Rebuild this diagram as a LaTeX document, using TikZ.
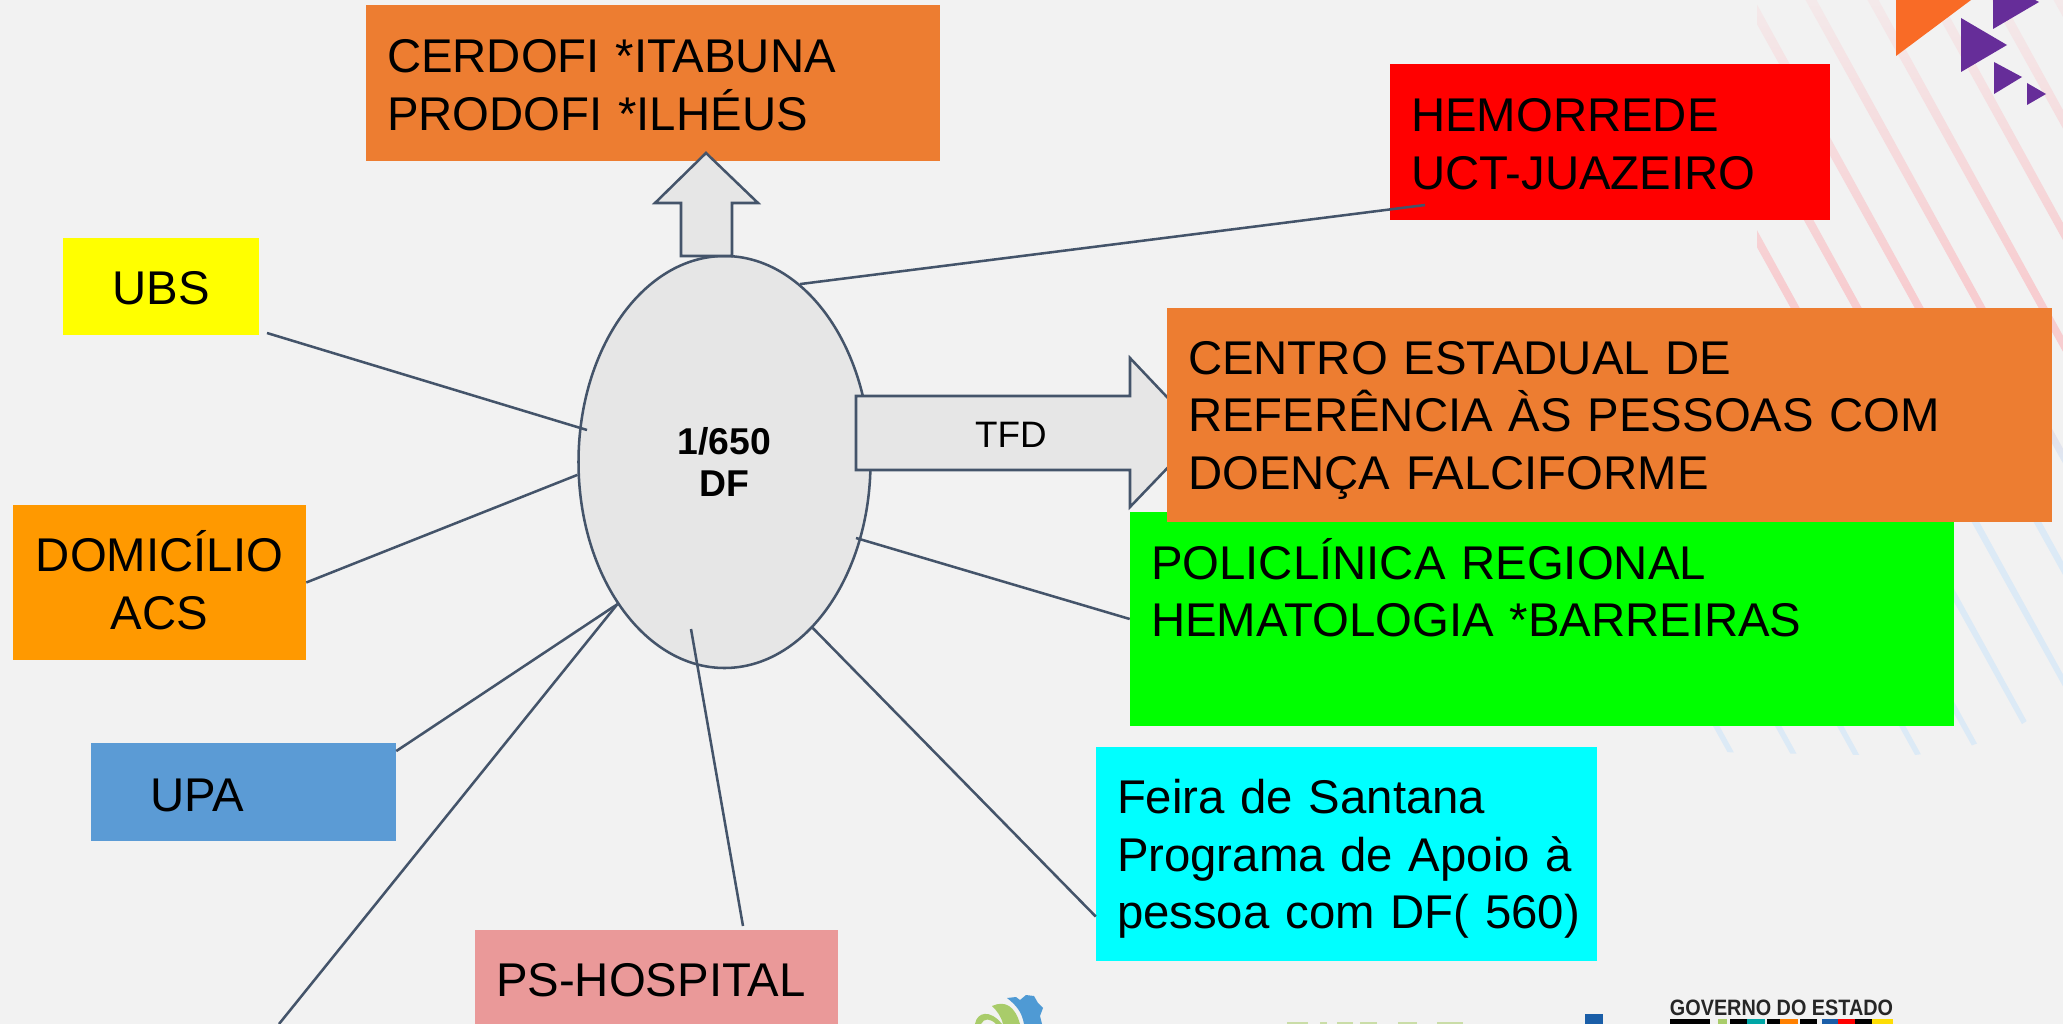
\documentclass[tikz,border=0pt]{standalone}
\usepackage{fontspec}
\usepackage{tikz}
\usetikzlibrary{shapes.geometric}
\setmainfont{Liberation Sans}

\definecolor{pagegray}{HTML}{F2F2F2}
\definecolor{linegray}{HTML}{44546A}
\definecolor{bubblegray}{HTML}{E6E6E6}
\definecolor{boxorange}{HTML}{ED7D31}
\definecolor{deeporange}{HTML}{FF9900}
\definecolor{boxblue}{HTML}{5B9BD5}
\definecolor{boxrose}{HTML}{EA9999}
\definecolor{boxred}{HTML}{FF0000}
\definecolor{boxyellow}{HTML}{FFFF00}
\definecolor{boxgreen}{HTML}{00FF00}
\definecolor{boxcyan}{HTML}{00FFFF}
\definecolor{cornerorange}{HTML}{F96B26}
\definecolor{cornerpurple}{HTML}{662D99}
\definecolor{sproutgreen}{HTML}{A9CC6A}
\definecolor{gearblue}{HTML}{4F9AD4}
\definecolor{barblue}{HTML}{1A5EA8}
\definecolor{stripeblue}{HTML}{DCEAF6}
\definecolor{stripepink}{HTML}{F7CDD0}
\definecolor{stripepale}{HTML}{F4E9EA}

\pgfdeclareverticalshading{stripefade}{100bp}{
  color(0bp)=(stripeblue);
  color(25bp)=(stripeblue);
  color(44bp)=(stripeblue);
  color(52bp)=(stripepink);
  color(56bp)=(stripepink);
  color(75bp)=(stripepale);
  color(100bp)=(stripepale)}

\tikzset{
  textbox/.style 2 args={rectangle, inner xsep=15.75pt, inner ysep=0pt, align=left,
    minimum width=#1*0.75pt, minimum height=#2*0.75pt, text width=(#1-42)*0.75pt,
    font=\fontsize{35.5}{43.3}\selectfont},
  shortbox/.style 2 args={rectangle, inner sep=0pt, align=center,
    minimum width=#1*0.75pt, minimum height=#2*0.75pt,
    font=\fontsize{35.5}{43.3}\selectfont},
  link/.style={draw=linegray, line width=1.9pt},
  blockarrow/.style={draw=linegray, line width=1.9pt, fill=bubblegray, miter limit=10},
  corner/.style={fill=cornerpurple}
}

\begin{document}
\begin{tikzpicture}[x=0.75pt, y=-0.75pt]
        \useasboundingbox (0,0) rectangle (2063,1024);
        \clip (0,0) rectangle (2063,1024);
        \fill[pagegray] (0,0) rectangle (2063,1024);

        % stripes behind the boxes
        \begin{scope}
            \clip (1757,0) -- (2063,0) -- (2063,697) -- (2013,730) -- (1965,748) -- (1908,756)
              -- (1718,752) -- (1690,700) -- (1690,320) -- (1757,320) -- cycle;
            \clip \foreach \xstart in {1304,1366,...,2110} {
              (\xstart,-10) -- (\xstart+11,-10) -- (\xstart+11+434,780) -- (\xstart+5+434,780) -- cycle};
            \shade[shading=stripefade] (1600,0) rectangle (2063,760);
        \end{scope}

        % top right triangles
        \fill[cornerorange] (1896,0) -- (1971,0) -- (1896,56) -- cycle;
        \fill[corner] (1993,0) -- (2035,0) -- (2039,2) -- (1993,29) -- cycle;
        \fill[corner] (1961,18) -- (2007,45) -- (1961,72) -- cycle;
        \fill[corner] (1994,62) -- (2022,77) -- (1994,94) -- cycle;
        \fill[corner] (2027,83) -- (2046,94) -- (2027,105) -- cycle;

        \node[textbox={574}{156}, fill=boxorange] (cerdofi) at (653,83) {\rule{0pt}{28pt}CERDOFI *ITABUNA\\PRODOFI *ILHÉUS};
        \node[textbox={440}{156}, fill=boxred] (hemorrede) at (1610,142) {\rule{0pt}{28pt}HEMORREDE\\UCT-JUAZEIRO};
        \node[shortbox={196}{97}, fill=boxyellow] (ubs) at (161,286.5) {\rule{0pt}{28pt}UBS};
        \node[shortbox={293}{155}, fill=deeporange] (domicilio) at (159.5,582.5) {DOMICÍLIO\\ACS\rule[-4pt]{0pt}{0pt}};
        \node[textbox={305}{98}, fill=boxblue] (upa) at (243.5,792) {\rule{0pt}{29pt}\hspace*{29pt}UPA};
        \node[textbox={363}{100}, fill=boxrose] (hospital) at (656.5,980) {PS-HOSPITAL};
        \node[textbox={501}{214}, fill=boxcyan] (feira) at (1346.5,854) {\rule{0pt}{33pt}Feira de Santana\\\mbox{Programa de Apoio à}\\\mbox{pessoa com DF( 560)}};
        \node[textbox={824}{214}, fill=boxgreen] (policlinica) at (1542,619) {POLICLÍNICA REGIONAL\\HEMATOLOGIA *BARREIRAS\\\mbox{}\rule[-4pt]{0pt}{0pt}};

        \node[ellipse, draw=linegray, line width=1.9pt, fill=bubblegray, inner sep=0pt, align=center,
              minimum width=219pt, minimum height=309pt, font=\fontsize{28}{31.5}\selectfont\bfseries] (df) at (724.5,462) {1/650\\DF};

        % block arrows
        \draw[blockarrow] (681,256) -- (681,203) -- (655,203) -- (706,153) -- (758,203) -- (732,203) -- (732,256) -- cycle;
        \draw[blockarrow] (856,396) -- (1130,396) -- (1130,358) -- (1201,433) -- (1130,507) -- (1130,470) -- (856,470) -- cycle;
        \node[font=\fontsize{27.6}{33}\selectfont, inner sep=0pt] (tfd) at (1011,435) {TFD};

        \node[textbox={885}{214}, fill=boxorange] (centro) at (1609.5,415) {\rule{0pt}{33pt}CENTRO ESTADUAL DE\\REFERÊNCIA ÀS PESSOAS COM\\DOENÇA FALCIFORME};

        % free ends of the connectors
        \coordinate (ubs out) at (267,333);
        \coordinate (ubs in) at (587,430);
        \coordinate (hemorrede in) at (1425,205);
        \coordinate (hospital out) at (743,926);
        \coordinate (hospital in) at (691,629);
        \coordinate (policlinica in) at (856,538);
        \coordinate (cut off) at (279,1024);

        \path[link]
        (ubs out) edge (ubs in)
        (domicilio.east) edge (df.185.5)
        (upa.15) edge (df.233.9)
        (cut off) edge (df.233.9)
        (hospital out) edge (hospital in)
        (feira.194.4) edge (df.-62.5)
        (policlinica.west) edge (policlinica in)
        (hemorrede in) edge (df.67.1);

        % logos at the bottom edge, cut off by the slide
        \fill[sproutgreen] (975,1024) .. controls (977,1012) and (990,1009) .. (1002,1024) -- (996,1024) .. controls (990,1018) and (984,1018) .. (981,1024) -- cycle;
        \fill[sproutgreen] (992,1006) .. controls (1005,1000) and (1015,1006) .. (1020,1024) -- (1003,1024) .. controls (1001,1016) and (997,1011) .. (992,1006) -- cycle;
        \fill[gearblue] (1007,998) -- (1016,997) -- (1020,1000) -- (1026,995) -- (1034,996) -- (1038,1003) -- (1043,1008) -- (1040,1016) -- (1042,1024) -- (1024,1024)
          .. controls (1022,1012) and (1016,1005) .. (1007,998) -- cycle;
        \foreach \xa/\xb in {1287/1308,1320/1327,1337/1353,1360/1377,1398/1417,1437/1463}
            \fill[sproutgreen!55!pagegray] (\xa,1022) rectangle (\xb,1024);
        \fill[barblue] (1585,1014) rectangle (1603,1024);
        \node[font=\fontsize{16.7}{20}\selectfont\bfseries, inner sep=0pt, xscale=0.89, color=black!85] (governo) at (1781.5,1008) {GOVERNO DO ESTADO};
        \foreach \xa/\xb/\barcolor in {1670/1710/black,1718/1727/sproutgreen,1730/1747/black,1747/1765/teal!70!cyan,1767/1780/black,1780/1798/orange,1800/1817/black,1822/1838/barblue,1838/1855/boxred,1855/1872/black,1872/1893/yellow!80!orange}
            \fill[\barcolor] (\xa,1019) rectangle (\xb,1024);

    \end{tikzpicture}
\end{document}
